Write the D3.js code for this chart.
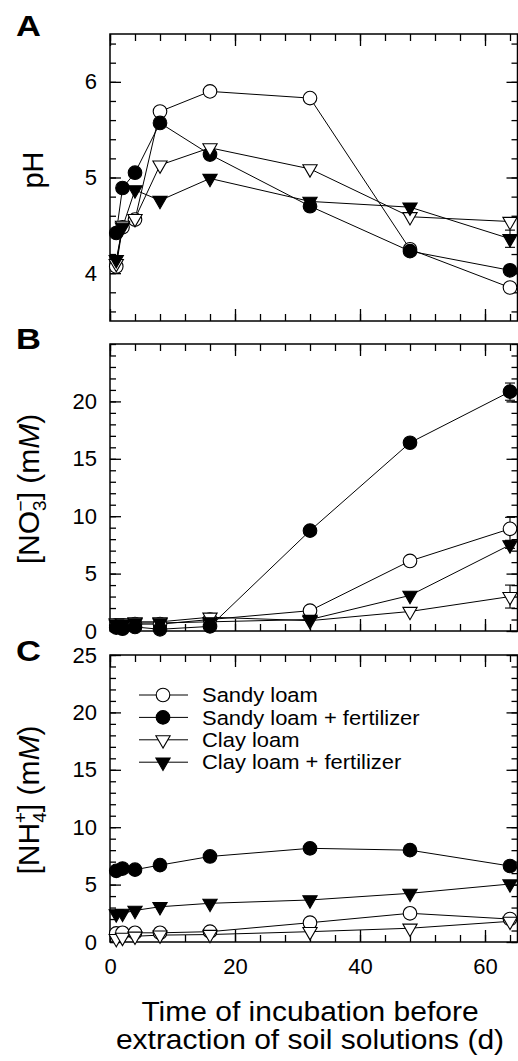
<!DOCTYPE html>
<html>
<head>
<meta charset="utf-8">
<script src="https://cdn.jsdelivr.net/npm/d3@7"></script>
<style>
  body { margin: 0; background: #fff; }
  svg { display: block; font-family: "Liberation Sans", Arial, sans-serif; }
</style>
</head>
<body>
<svg width="518" height="1061"></svg>
<script>
// sampling days
var days = [1, 2, 4, 8, 16, 32, 48, 64];
var seriesNames = ["Sandy loam", "Sandy loam + fertilizer", "Clay loam", "Clay loam + fertilizer"];

// A: pH
var phSandy     = [4.07, 4.48, 4.56, 5.69, 5.90, 5.83, 4.25, 3.85];
var phSandyFert = [4.42, 4.89, 5.05, 5.57, 5.24, 4.70, 4.23, 4.03];
var phClay      = [4.10, 4.50, 4.57, 5.13, 5.31, 5.09, 4.59, 4.54];
var phClayFert  = [4.14, 4.48, 4.87, 4.76, 4.99, 4.75, 4.69, 4.36];
var phClayFertErr = [0, 0, 0, 0, 0, 0, 0, 0.09];
var phSandyErr    = [0.05, 0, 0, 0, 0, 0, 0, 0];

// B: nitrate (mM)
var no3Sandy     = [0.5, 0.5, 0.6, 0.6, 1.0, 1.77, 6.1, 8.9];
var no3SandyFert = [0.3, 0.2, 0.35, 0.15, 0.4, 8.74, 16.4, 20.85];
var no3Clay      = [0.7, 0.7, 0.8, 0.8, 1.2, 0.9, 1.7, 3.0];
var no3ClayFert  = [0.6, 0.6, 0.7, 0.7, 0.8, 1.0, 3.1, 7.5];
var no3SandyErr     = [0, 0, 0, 0, 0, 0, 0, 1.0];
var no3SandyFertErr = [0, 0, 0, 0, 0, 0, 0, 0.75];
var no3ClayErr      = [0, 0, 0, 0, 0, 0, 0, 1.0];
var no3ClayFertErr  = [0, 0, 0, 0, 0, 0, 0, 0.3];

// C: ammonium (mM)
var nh4Sandy     = [0.75, 0.8, 0.8, 0.8, 0.9, 1.68, 2.5, 2.0];
var nh4SandyFert = [6.2, 6.4, 6.3, 6.7, 7.45, 8.16, 8.0, 6.62];
var nh4Clay      = [0.3, 0.4, 0.5, 0.6, 0.65, 0.9, 1.2, 1.8];
var nh4ClayFert  = [2.45, 2.5, 2.75, 3.07, 3.37, 3.66, 4.24, 5.05];

var xMajor = [0, 20, 40, 60];
var xMinor = d3.range(0, 66, 4);
var phTicks = [4, 5, 6];
var no3Ticks = [0, 5, 10, 15, 20];
var nh4Ticks = [0, 5, 10, 15, 20, 25];

var svg = d3.select("svg");
var left = 110, right = 517.5;
var x = d3.scaleLinear().domain([0, 65.2]).range([left, right]);

var styles = ["open-circle", "filled-circle", "open-tri", "filled-tri"];

function marker(sel, kind) {
    if (kind.indexOf("circle") >= 0) {
        sel.append("circle").attr("r", 6.8);
    } else {
        sel.append("path")
            .attr("d", d3.symbol(d3.symbolTriangle, 88)())
            .attr("transform", "rotate(180)");
    }
    sel.selectAll("circle,path")
        .attr("fill", kind.indexOf("open") === 0 ? "#fff" : "#000")
        .attr("stroke", "#000")
        .attr("stroke-width", 1.1);
}

// the scan is a little wider than the font, so stretch text sideways
function stretch(sel, k) {
    sel.each(function () {
        var w = this.getComputedTextLength();
        d3.select(this).attr("textLength", w * k).attr("lengthAdjust", "spacingAndGlyphs");
    });
}

function panel(opt) {
    var y = d3.scaleLinear().domain(opt.domain).range([opt.bottom, opt.top]);
    var g = svg.append("g");

    // minor + major ticks on all four sides, pointing inward
    function addAxis(axisFn, scale, pos, values, size, labels, pad) {
        var a = axisFn(scale).tickValues(values).tickSize(-size).tickSizeOuter(0);
        if (labels) a.tickFormat(d3.format("d")).tickPadding(pad); else a.tickFormat("");
        var ag = g.append("g").attr("transform", pos).call(a);
        ag.select(".domain").remove();
        ag.selectAll("line").attr("stroke", "#000").attr("stroke-width", 1.3);
        ag.selectAll("text").attr("font-size", 22).attr("fill", "#000")
            .attr("font-family", "Liberation Sans, Arial, sans-serif");
    }
    addAxis(d3.axisLeft, y, "translate(" + left + ",0)", opt.minor, 6, false);
    addAxis(d3.axisLeft, y, "translate(" + left + ",0)", opt.major, 11, true, 13);
    addAxis(d3.axisRight, y, "translate(" + right + ",0)", opt.minor, 6, false);
    addAxis(d3.axisRight, y, "translate(" + right + ",0)", opt.major, 11, false);
    addAxis(d3.axisTop, x, "translate(0," + opt.top + ")", xMinor, 7, false);
    addAxis(d3.axisTop, x, "translate(0," + opt.top + ")", xMajor, 12, false);
    addAxis(d3.axisBottom, x, "translate(0," + opt.bottom + ")", xMinor, 7, false);
    addAxis(d3.axisBottom, x, "translate(0," + opt.bottom + ")", xMajor, 12, opt.xLabels, 16);

    g.append("rect")
        .attr("x", left).attr("y", opt.top)
        .attr("width", right - left).attr("height", opt.bottom - opt.top)
        .attr("fill", "none").attr("stroke", "#000").attr("stroke-width", 1.5);

    var line = d3.line().x(function (d) { return x(d[0]); }).y(function (d) { return y(d[1]); });

    opt.series.forEach(function (vals) {
        var pts = days.map(function (d, i) { return [d, vals[i]]; });
        g.append("path").attr("d", line(pts))
            .attr("fill", "none").attr("stroke", "#000").attr("stroke-width", 1);
    });

    // error bars
    opt.series.forEach(function (vals, s) {
        var err = opt.errors[s];
        if (!err) return;
        days.forEach(function (d, i) {
            if (!err[i]) return;
            var cx = x(d), y0 = y(vals[i] - err[i]), y1 = y(vals[i] + err[i]);
            g.append("line").attr("x1", cx).attr("x2", cx).attr("y1", y0).attr("y2", y1)
                .attr("stroke", "#000").attr("stroke-width", 1.1);
            [y0, y1].forEach(function (yy) {
                g.append("line").attr("x1", cx - 5).attr("x2", cx + 5).attr("y1", yy).attr("y2", yy)
                    .attr("stroke", "#000").attr("stroke-width", 1.1);
            });
        });
    });

    opt.series.forEach(function (vals, s) {
        days.forEach(function (d, i) {
            var m = g.append("g").attr("transform", "translate(" + x(d) + "," + y(vals[i]) + ")");
            marker(m, styles[s]);
        });
    });

    svg.append("text")
        .attr("transform", "translate(16," + opt.letterY + ") scale(1.15,1)")
        .attr("font-size", 30).attr("font-weight", "bold").text(opt.letter);

    return { g: g, y: y };
}

panel({
    top: 34, bottom: 321, domain: [3.5, 6.5],
    major: phTicks, minor: d3.range(3.6, 6.5, 0.2).map(function (v) { return +v.toFixed(1); }),
    series: [phSandy, phSandyFert, phClay, phClayFert],
    errors: [phSandyErr, null, null, phClayFertErr],
    letter: "A", letterY: 36, xLabels: false
});
panel({
    top: 344, bottom: 631, domain: [0, 25],
    major: no3Ticks, minor: d3.range(0, 26, 1),
    series: [no3Sandy, no3SandyFert, no3Clay, no3ClayFert],
    errors: [no3SandyErr, no3SandyFertErr, no3ClayErr, no3ClayFertErr],
    letter: "B", letterY: 349, xLabels: false
});
panel({
    top: 655, bottom: 942, domain: [0, 25],
    major: nh4Ticks, minor: d3.range(0, 26, 1),
    series: [nh4Sandy, nh4SandyFert, nh4Clay, nh4ClayFert],
    errors: [null, null, null, null],
    letter: "C", letterY: 661, xLabels: true
});

// y-axis titles
svg.append("text").attr("transform", "translate(43,170) rotate(-90)")
    .attr("text-anchor", "middle").attr("font-size", 29).text("pH");

function ionTitle(cx, cy, base, sub, sup) {
    var t = svg.append("text").attr("transform", "translate(" + cx + "," + cy + ") rotate(-90)")
        .attr("text-anchor", "middle").attr("font-size", 30);
    t.append("tspan").text(base);
    t.append("tspan").attr("font-size", 19).attr("dy", 7).text(sub);
    t.append("tspan").attr("font-size", 19).attr("dy", -19).attr("dx", -11).text(sup);
    t.append("tspan").attr("dy", 12).text("] (m");
    t.append("tspan").attr("font-style", "italic").text("M");
    t.append("tspan").text(")");
}
ionTitle(39, 489, "[NO", "3", "\u2212");
ionTitle(39, 800, "[NH", "4", "+");

// legend
var leg = svg.append("g");
seriesNames.forEach(function (name, i) {
    var ly = 695 + i * 22.4;
    leg.append("line").attr("x1", 139).attr("x2", 188).attr("y1", ly).attr("y2", ly)
        .attr("stroke", "#000").attr("stroke-width", 1);
    var m = leg.append("g").attr("transform", "translate(163," + ly + ")");
    marker(m, styles[i]);
    leg.append("text").attr("x", 202).attr("y", ly).attr("dy", "0.35em")
        .attr("font-size", 20.5).text(name)
        .call(stretch, 1.07);
});

// x-axis title
svg.append("text").attr("x", 310).attr("y", 1021).attr("text-anchor", "middle")
    .attr("font-size", 27.5).text("Time of incubation before")
    .call(stretch, 1.09);
svg.append("text").attr("x", 310).attr("y", 1049).attr("text-anchor", "middle")
    .attr("font-size", 27.5).text("extraction of soil solutions (d)")
    .call(stretch, 1.09);
</script>
</body>
</html>
